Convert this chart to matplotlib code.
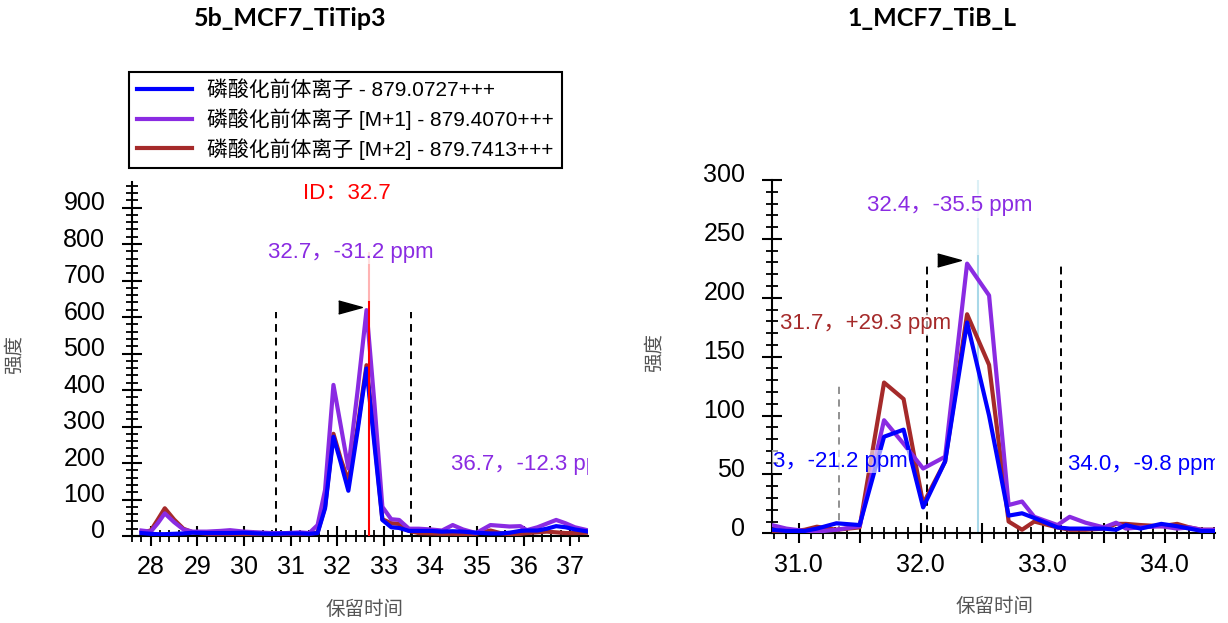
"""Two Skyline-style chromatograms of the same precursor isotopes."""
import matplotlib
matplotlib.use("Agg")
import matplotlib.pyplot as plt
from matplotlib.ticker import MultipleLocator, FuncFormatter
from matplotlib.transforms import ScaledTranslation

plt.rcParams["font.family"] = ["Liberation Sans", "Noto Sans CJK SC"]

BLUE = "#0000ff"
PURPLE = "#8a2be2"
BROWN = "#a52a2a"
RED = "#ff0000"

series_names = [
    "磷酸化前体离子 - 879.0727+++",
    "磷酸化前体离子 [M+1] - 879.4070+++",
    "磷酸化前体离子 [M+2] - 879.7413+++",
]
x_label = "保留时间"
y_label = "强度"

# left run: 5b_MCF7_TiTip3
left_title = "5b_MCF7_TiTip3"
left_rt = [27.80, 28.00, 28.15, 28.30, 28.50, 28.70, 28.90, 29.20, 29.50, 29.70,
           30.00, 30.30, 30.60, 30.90, 31.20, 31.40, 31.58, 31.74, 31.92, 32.08,
           32.24, 32.44, 32.63, 32.80, 32.97, 33.16, 33.33, 33.54, 33.75, 34.00,
           34.25, 34.48, 34.70, 34.98, 35.29, 35.50, 35.70, 35.93, 36.07, 36.30,
           36.50, 36.70, 36.90, 37.10, 37.40]
left_m0 = [8, 6, 5, 5, 6, 7, 9, 8, 8, 8,
           9, 7, 6, 7, 7, 6, 8, 76, 272, 200,
           124, 290, 459, 250, 44, 24, 22, 14, 14, 14,
           12, 13, 12, 9, 7, 7, 9, 14, 15, 15,
           20, 27, 24, 18, 12]
left_m1 = [15, 12, 35, 62, 38, 18, 12, 12, 14, 16,
           12, 10, 8, 8, 10, 8, 30, 126, 414, 300,
           185, 400, 619, 363, 80, 46, 44, 20, 20, 18,
           15, 30, 18, 8, 30, 28, 26, 27, 16, 24,
           34, 44, 35, 24, 15]
left_m2 = [10, 15, 45, 76, 45, 20, 10, 6, 5, 5,
           5, 4, 4, 5, 5, 5, 10, 80, 280, 210,
           150, 300, 468, 265, 46, 35, 33, 14, 8, 7,
           6, 6, 5, 6, 15, 8, 5, 6, 8, 10,
           12, 10, 8, 8, 9]
left_bounds = [30.69, 33.59]
left_bound_top = 615
left_id_rt = 32.69
left_id_top = 642
left_id_fade_top = 775
left_arrow = (32.27, 628)
left_labels = [
    ("ID：32.7", 32.20, 940, RED, "center"),
    ("32.7，-31.2 ppm", 32.30, 778, PURPLE, "center"),
    ("36.7，-12.3 ppm", 34.45, 195, PURPLE, "left"),
]

# right run: 1_MCF7_TiB_L
right_title = "1_MCF7_TiB_L"
right_rt = [30.78, 30.90, 31.05, 31.15, 31.31, 31.50, 31.70, 31.86, 32.02, 32.20,
            32.38, 32.56, 32.72, 32.83, 32.93, 33.12, 33.22, 33.35, 33.50, 33.60,
            33.68, 33.80, 33.97, 34.10, 34.20, 34.30, 34.41]
right_m0 = [3, 2, 2, 4, 8.5, 7, 82, 88, 22, 61,
            179, 100, 15, 17, 13, 5, 4, 4, 4, 3,
            7, 4, 8, 6, 4, 2, 2]
right_m1 = [7, 4, 2, 1.5, 3, 6, 96, 76, 55, 65,
            229, 202, 24, 27, 14, 7, 14, 9, 5, 9,
            4, 5, 6, 4, 5, 3, 3]
right_m2 = [2, 1, 3, 5.6, 3, 5, 128, 114, 25, 61,
            186, 143, 10, 3, 10, 5, 3, 3, 4, 8,
            8, 7, 6, 8, 5, 3, 3]
right_bounds = [32.05, 33.15]
right_bound_top = 230
right_alt_rt = 31.33
right_alt_top = 128
right_best_rt = 32.47
right_best_solid_top = 237
right_arrow = (32.23, 232)
right_labels = [
    ("32.4，-35.5 ppm", 32.24, 278, PURPLE, "center"),
    ("31.7，+29.3 ppm", 31.55, 178, BROWN, "center"),
    ("31.3，-21.2 ppm", 31.89, 61, BLUE, "right"),
    ("34.0，-9.8 ppm", 33.21, 58, BLUE, "left"),
]

ARROW = [(-1, -0.55), (1, 0), (-1, 0.55)]
W, H = 1228, 623

fig = plt.figure(figsize=(W / 100, H / 100), dpi=100)
ax_l = fig.add_axes([131.7 / W, 1 - 536 / H, (588.3 - 131.7) / W, (536 - 182) / H])
ax_r = fig.add_axes([771.7 / W, 1 - 533.3 / H, (1215 - 771.7) / W, (533.3 - 180) / H])


def style_axes(ax, xlim, ylim, xmajor, xminor, ymajor, yminor, xfmt):
    ax.set_xlim(*xlim)
    ax.set_ylim(*ylim)
    for side in ("top", "right"):
        ax.spines[side].set_visible(False)
    for side in ("left", "bottom"):
        ax.spines[side].set_linewidth(1.5)
    ax.xaxis.set_major_locator(MultipleLocator(xmajor))
    ax.xaxis.set_minor_locator(MultipleLocator(xminor))
    ax.yaxis.set_major_locator(MultipleLocator(ymajor))
    ax.yaxis.set_minor_locator(MultipleLocator(yminor))
    ax.xaxis.set_major_formatter(FuncFormatter(xfmt))
    ax.yaxis.set_major_formatter(FuncFormatter(lambda v, p: f"{v:.0f}"))
    ax.tick_params(which="major", direction="inout", length=14, width=1.5,
                   labelsize=18)
    ax.tick_params(which="minor", direction="inout", length=8, width=1.3)
    ax.tick_params(axis="x", which="major", pad=7)
    ax.tick_params(axis="y", which="major", pad=12)
    shift = ScaledTranslation(0, 0.07, fig.dpi_scale_trans)
    for lab in ax.get_yticklabels():
        lab.set_transform(lab.get_transform() + shift)


def draw_run(ax, rt, m0, m1, m2):
    ax.plot(rt, m2, color=BROWN, lw=3, zorder=3)
    ax.plot(rt, m1, color=PURPLE, lw=3, zorder=4)
    ax.plot(rt, m0, color=BLUE, lw=3, zorder=5)


def draw_labels(ax, labels):
    for text, x, y, color, ha in labels:
        ax.text(x, y, text, color=color, fontsize=16, ha=ha, va="center",
                zorder=8, clip_on=True,
                bbox=dict(facecolor="white", edgecolor="none", alpha=0.6, pad=1))


# left panel
style_axes(ax_l, (27.59, 37.39), (0, 970), 1, 0.2, 100, 20,
           lambda v, p: f"{v:.0f}")
for b in left_bounds:
    ax_l.plot([b, b], [0, left_bound_top], color="black", lw=1.4,
              ls=(0, (4, 3)), zorder=2)
ax_l.plot([left_id_rt, left_id_rt], [0, left_id_top], color=RED, lw=1.5, zorder=6)
ax_l.plot([left_id_rt, left_id_rt], [left_id_top, left_id_fade_top],
          color="#ffb3b3", lw=1.5, zorder=2)
draw_run(ax_l, left_rt, left_m0, left_m1, left_m2)
ax_l.plot(*left_arrow, marker=ARROW, ms=17, color="black", zorder=7)
draw_labels(ax_l, left_labels)

# right panel
style_axes(ax_r, (30.78, 34.41), (0, 300), 0.5, 0.1, 50, 10,
           lambda v, p: f"{v:.1f}" if abs(v - round(v)) < 1e-6 else "")
ax_r.plot([right_alt_rt, right_alt_rt], [0, right_alt_top], color="#888888",
          lw=1.3, ls=(0, (4, 3)), zorder=2)
for b in right_bounds:
    ax_r.plot([b, b], [0, right_bound_top], color="black", lw=1.4,
              ls=(0, (4, 3)), zorder=2)
ax_r.plot([right_best_rt, right_best_rt], [0, right_best_solid_top],
          color="#a8d8e8", lw=1.5, zorder=2)
ax_r.plot([right_best_rt, right_best_rt], [right_best_solid_top, 300],
          color="#dcf0f6", lw=1.5, zorder=2)
draw_run(ax_r, right_rt, right_m0, right_m1, right_m2)
ax_r.plot(*right_arrow, marker=ARROW, ms=17, color="black", zorder=7)
draw_labels(ax_r, right_labels)

# titles, axis labels, legend
title_font = ["Lato", "Noto Sans CJK SC"]
fig.text(290 / W, 1 - 18 / H, left_title, ha="center", va="center",
         fontsize=18, fontweight="bold", family=title_font)
fig.text(932 / W, 1 - 18 / H, right_title, ha="center", va="center",
         fontsize=18, fontweight="bold", family=title_font)
for x, y in [(15, 355), (655, 352)]:
    fig.text(x / W, 1 - y / H, y_label, rotation=90, ha="center", va="center",
             fontsize=14, color="#555555")
for x, y in [(365, 610), (995, 607)]:
    fig.text(x / W, 1 - y / H, x_label, ha="center", va="center",
             fontsize=14, color="#555555")

handles = [plt.Line2D([], [], color=c, lw=3) for c in (BLUE, PURPLE, BROWN)]
leg = fig.legend(handles, series_names, loc="upper left",
                 bbox_to_anchor=(129 / W, 1 - 72 / H), borderaxespad=0,
                 fontsize=15, handlelength=2.6, handletextpad=0.75,
                 labelspacing=0.38, borderpad=0.4, fancybox=False,
                 framealpha=1, edgecolor="black")
leg.get_frame().set_linewidth(1.5)

fig.savefig("out.png", dpi=100, facecolor="white")
